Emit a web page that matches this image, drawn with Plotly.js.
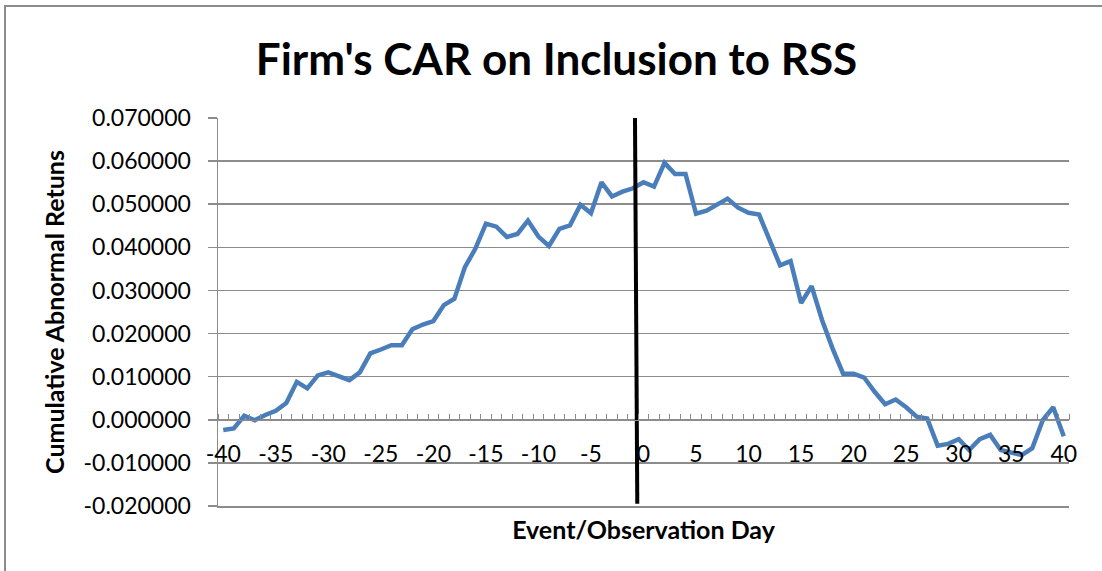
<!DOCTYPE html>
<html>
<head>
<meta charset="utf-8">
<script src="https://cdn.plot.ly/plotly-3.0.1.min.js"></script>
<style>
  html, body { margin: 0; padding: 0; background: #fff; }
  #wrap { position: relative; width: 1102px; height: 571px; overflow: hidden; }
  #frame { position: absolute; left: 4px; top: 5px; width: 1200px; height: 700px;
           border-left: 2px solid #8c8c8c; border-top: 2px solid #8c8c8c; box-sizing: border-box; }
  #chart { position: absolute; left: 0; top: 0; width: 1102px; height: 571px; }
</style>
</head>
<body>
<div id="wrap">
  <div id="frame"></div>
  <div id="chart"></div>
</div>
<script>
const days = [-40,-39,-38,-37,-36,-35,-34,-33,-32,-31,-30,-29,-28,-27,-26,-25,-24,-23,-22,-21,
  -20,-19,-18,-17,-16,-15,-14,-13,-12,-11,-10,-9,-8,-7,-6,-5,-4,-3,-2,-1,
  0,1,2,3,4,5,6,7,8,9,10,11,12,13,14,15,16,17,18,19,20,
  21,22,23,24,25,26,27,28,29,30,31,32,33,34,35,36,37,38,39,40];
const car = [-0.00238,-0.00200,0.00093,-0.00010,0.00110,0.00210,0.00390,0.00880,0.00730,0.01030,
  0.01100,0.01020,0.00920,0.01100,0.01540,0.01630,0.01730,0.01730,0.02100,0.02210,
  0.02290,0.02660,0.02810,0.03540,0.03970,0.04550,0.04480,0.04240,0.04310,0.04620,
  0.04250,0.04030,0.04430,0.04510,0.04990,0.04790,0.05510,0.05180,0.05290,0.05370,
  0.05510,0.05410,0.05960,0.05700,0.05700,0.04780,0.04850,0.04990,0.05130,0.04920,
  0.04800,0.04760,0.04160,0.03580,0.03680,0.02710,0.03100,0.02310,0.01650,0.01070,
  0.01070,0.00980,0.00650,0.00360,0.00470,0.00290,0.00070,0.00030,-0.00600,-0.00560,
  -0.00450,-0.00700,-0.00450,-0.00350,-0.00700,-0.00760,-0.00820,-0.00660,-0.00010,0.00290,
  -0.00380];
const eventLineX = [-0.81, -0.59];
const eventLineY = [0.07, -0.0195];
const xTickVals = [-40,-35,-30,-25,-20,-15,-10,-5,0,5,10,15,20,25,30,35,40];
const xTickText = xTickVals.map(v => String(v));
const yTickVals = [-0.02,-0.01,0,0.01,0.02,0.03,0.04,0.05,0.06,0.07];
const yTickText = yTickVals.map(v => v.toFixed(6));

const yMin = -0.02, yMax = 0.07;
const gridColor = '#8c8c8c';
const font = 'Lato, "Open Sans", sans-serif';

const traces = [
  { x: days, y: car, type: 'scatter', mode: 'lines',
    line: { color: '#4a7ebb', width: 4.5 }, hoverinfo: 'x+y' },
  { x: eventLineX, y: eventLineY, type: 'scatter', mode: 'lines',
    line: { color: '#000', width: 4 }, cliponaxis: false, hoverinfo: 'skip' },
  { x: [null], y: [null], xaxis: 'x2', yaxis: 'y', type: 'scatter', mode: 'lines', hoverinfo: 'skip' }
];

const layout = {
  width: 1102, height: 571,
  paper_bgcolor: 'rgba(0,0,0,0)', plot_bgcolor: 'rgba(0,0,0,0)',
  margin: { l: 218, r: 33, t: 118, b: 65 },
  showlegend: false,
  font: { family: font, color: '#000' },
  title: { text: "Firm's CAR on Inclusion to RSS", x: 0.505, xanchor: 'center', y: 0.895, yanchor: 'middle',
           font: { family: font, size: 44, weight: 'bold', color: '#000' } },
  xaxis: {
    range: [-40.5, 40.5], anchor: 'free', position: (0 - yMin) / (yMax - yMin),
    tickmode: 'array', tickvals: xTickVals, ticktext: xTickText, ticks: '', showgrid: false, zeroline: false,
    showline: true, linecolor: gridColor, linewidth: 1.5,
    tickfont: { family: font, size: 23, color: '#000' }, ticklabelstandoff: 13,
    minor: { tick0: -40.5, dtick: 1, ticks: 'inside', ticklen: 6, tickcolor: gridColor, tickwidth: 1, showgrid: false }
  },
  xaxis2: {
    range: [-40.5, 40.5], overlaying: 'x', anchor: 'y', side: 'bottom',
    showticklabels: false, ticks: '', showgrid: false, zeroline: false,
    showline: true, linecolor: gridColor, linewidth: 1.5,
    title: { text: 'Event/Observation Day', font: { family: font, size: 25, weight: 'bold' }, standoff: 15 }
  },
  yaxis: {
    range: [yMin, yMax], tickmode: 'array', tickvals: yTickVals, ticktext: yTickText,
    showgrid: true, gridcolor: gridColor, gridwidth: 1.5, zeroline: false,
    showline: true, linecolor: gridColor, linewidth: 1.5,
    ticks: 'outside', ticklen: 9, tickcolor: gridColor, tickwidth: 1.5,
    tickfont: { family: font, size: 23, color: '#000' }, ticklabelstandoff: 12,
    title: { text: 'Cumulative Abnormal Retuns', font: { family: font, size: 25, weight: 'bold' }, standoff: 12 }
  }
};

Plotly.newPlot('chart', traces, layout, { displayModeBar: false, staticPlot: true });
</script>
</body>
</html>
